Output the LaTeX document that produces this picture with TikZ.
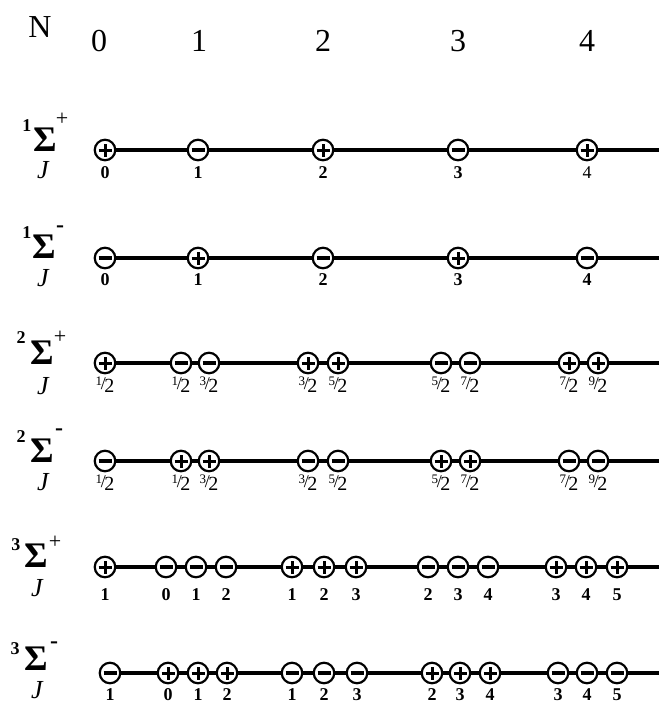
\documentclass[tikz,border=0pt]{standalone}
\usepackage{fontspec}
\setmainfont{Liberation Serif}
\usetikzlibrary{backgrounds}
\newcommand\hf[2]{{\mdseries\raisebox{4pt}{\fontsize{13}{13}\selectfont #1}\kern-1.3pt{\fontsize{18}{18}\selectfont /}\kern-1.6pt\raisebox{-3pt}{\fontsize{20}{20}\selectfont #2}}}
\tikzset{
  pbase/.style={circle, draw, line width=2.2pt, fill=white, minimum size=20.5pt, inner sep=0pt},
  sgnp/.style={pbase, path picture={\draw[line width=3pt]
      ([xshift=-6.5pt]path picture bounding box.center) -- ([xshift=6.5pt]path picture bounding box.center)
      ([yshift=-6.5pt]path picture bounding box.center) -- ([yshift=6.5pt]path picture bounding box.center);}},
  sgnm/.style={pbase, path picture={\draw[line width=3.2pt]
      ([xshift=-6.5pt]path picture bounding box.center) -- ([xshift=6.5pt]path picture bounding box.center);}},
  lab/.style={font=\fontsize{18}{18}\selectfont\bfseries, inner sep=0pt},
  sig/.style={font=\fontsize{36}{36}\selectfont\bfseries, inner sep=0pt},
  jj/.style={font=\fontsize{26}{26}\selectfont\itshape, inner sep=0pt},
  supn/.style={font=\fontsize{18}{18}\selectfont\bfseries, inner sep=0pt},
  sups/.style={font=\fontsize{22}{22}\selectfont, inner sep=0pt},
  supm/.style={font=\fontsize{24}{24}\selectfont\bfseries, inner sep=0pt},
  hdr/.style={font=\fontsize{32}{32}\selectfont, inner sep=0pt},
  axisa/.style={line width=4.5pt},
  axisb/.style={line width=3.5pt}
}
\newcommand\sgrow[5]{%
  \foreach \x/\s/\l [count=\i] in {#5} {
    \node[sgn\s] (#1c\i) at (\x,#2) {};
    \node[lab] (#1l\i) at (\x,#3) {\l};
  }
  \coordinate (#1end) at (659,#2);
  \begin{scope}[on background layer]\draw[#4] (#1c1.center) -- (#1end);\end{scope}
}
\begin{document}
\begin{tikzpicture}[x=1pt,y=-1pt]
\useasboundingbox (0,0) rectangle (659,705);
% header
\node[hdr] (hN) at (40,27) {N};
\node[hdr] (h0) at (99,41) {0};
\node[hdr] (h1) at (199,41) {1};
\node[hdr] (h2) at (323,41) {2};
\node[hdr] (h3) at (458,41) {3};
\node[hdr] (h4) at (587,41) {4};
% row labels
\node[sig] (s1) at (45,140) {Σ}; \node[supn] (s1n) at (27,126) {1}; \node[sups] (s1s) at (62,119) {+}; \node[jj] (j1) at (43,170) {J};
\node[sig] (s2) at (44,247) {Σ}; \node[supn] (s2n) at (27,233) {1}; \node[supm] (s2s) at (60,229) {-}; \node[jj] (j2) at (43,278) {J};
\node[sig] (s3) at (42,353) {Σ}; \node[supn] (s3n) at (21,338) {2}; \node[sups] (s3s) at (60,337) {+}; \node[jj] (j3) at (43,386) {J};
\node[sig] (s4) at (42,451) {Σ}; \node[supn] (s4n) at (21,437) {2}; \node[supm] (s4s) at (59,432) {-}; \node[jj] (j4) at (43,482) {J};
\node[sig] (s5) at (36,556) {Σ}; \node[supn] (s5n) at (16,545) {3}; \node[sups] (s5s) at (55,542) {+}; \node[jj] (j5) at (37,588) {J};
\node[sig] (s6) at (36,659) {Σ}; \node[supn] (s6n) at (15,649) {3}; \node[supm] (s6s) at (54,645) {-}; \node[jj] (j6) at (37,690) {J};
% rows
\sgrow{a}{150}{173}{axisa}{105/p/0, 198/m/1, 323/p/2, 458/m/3, 587/p/{\mdseries 4}}
\sgrow{b}{258}{280}{axisa}{105/m/0, 198/p/1, 323/m/2, 458/p/3, 587/m/4}
\sgrow{c}{363}{385}{axisa}{105/p/{\hf12}, 181/m/{\hf12}, 209/m/{\hf32}, 308/p/{\hf32}, 338/p/{\hf52}, 441/m/{\hf52}, 470/m/{\hf72}, 569/p/{\hf72}, 598/p/{\hf92}}
\sgrow{d}{461}{483}{axisa}{105/m/{\hf12}, 181/p/{\hf12}, 209/p/{\hf32}, 308/m/{\hf32}, 338/m/{\hf52}, 441/p/{\hf52}, 470/p/{\hf72}, 569/m/{\hf72}, 598/m/{\hf92}}
\sgrow{e}{567}{595}{axisb}{105/p/1, 166/m/0, 196/m/1, 226/m/2, 292/p/1, 324/p/2, 356/p/3, 428/m/2, 458/m/3, 488/m/4, 556/p/3, 586/p/4, 617/p/5}
\sgrow{f}{673}{695}{axisb}{110/m/1, 168/p/0, 198/p/1, 227/p/2, 292/m/1, 324/m/2, 357/m/3, 432/p/2, 460/p/3, 490/p/4, 558/m/3, 587/m/4, 617/m/5}
\end{tikzpicture}
\end{document}
